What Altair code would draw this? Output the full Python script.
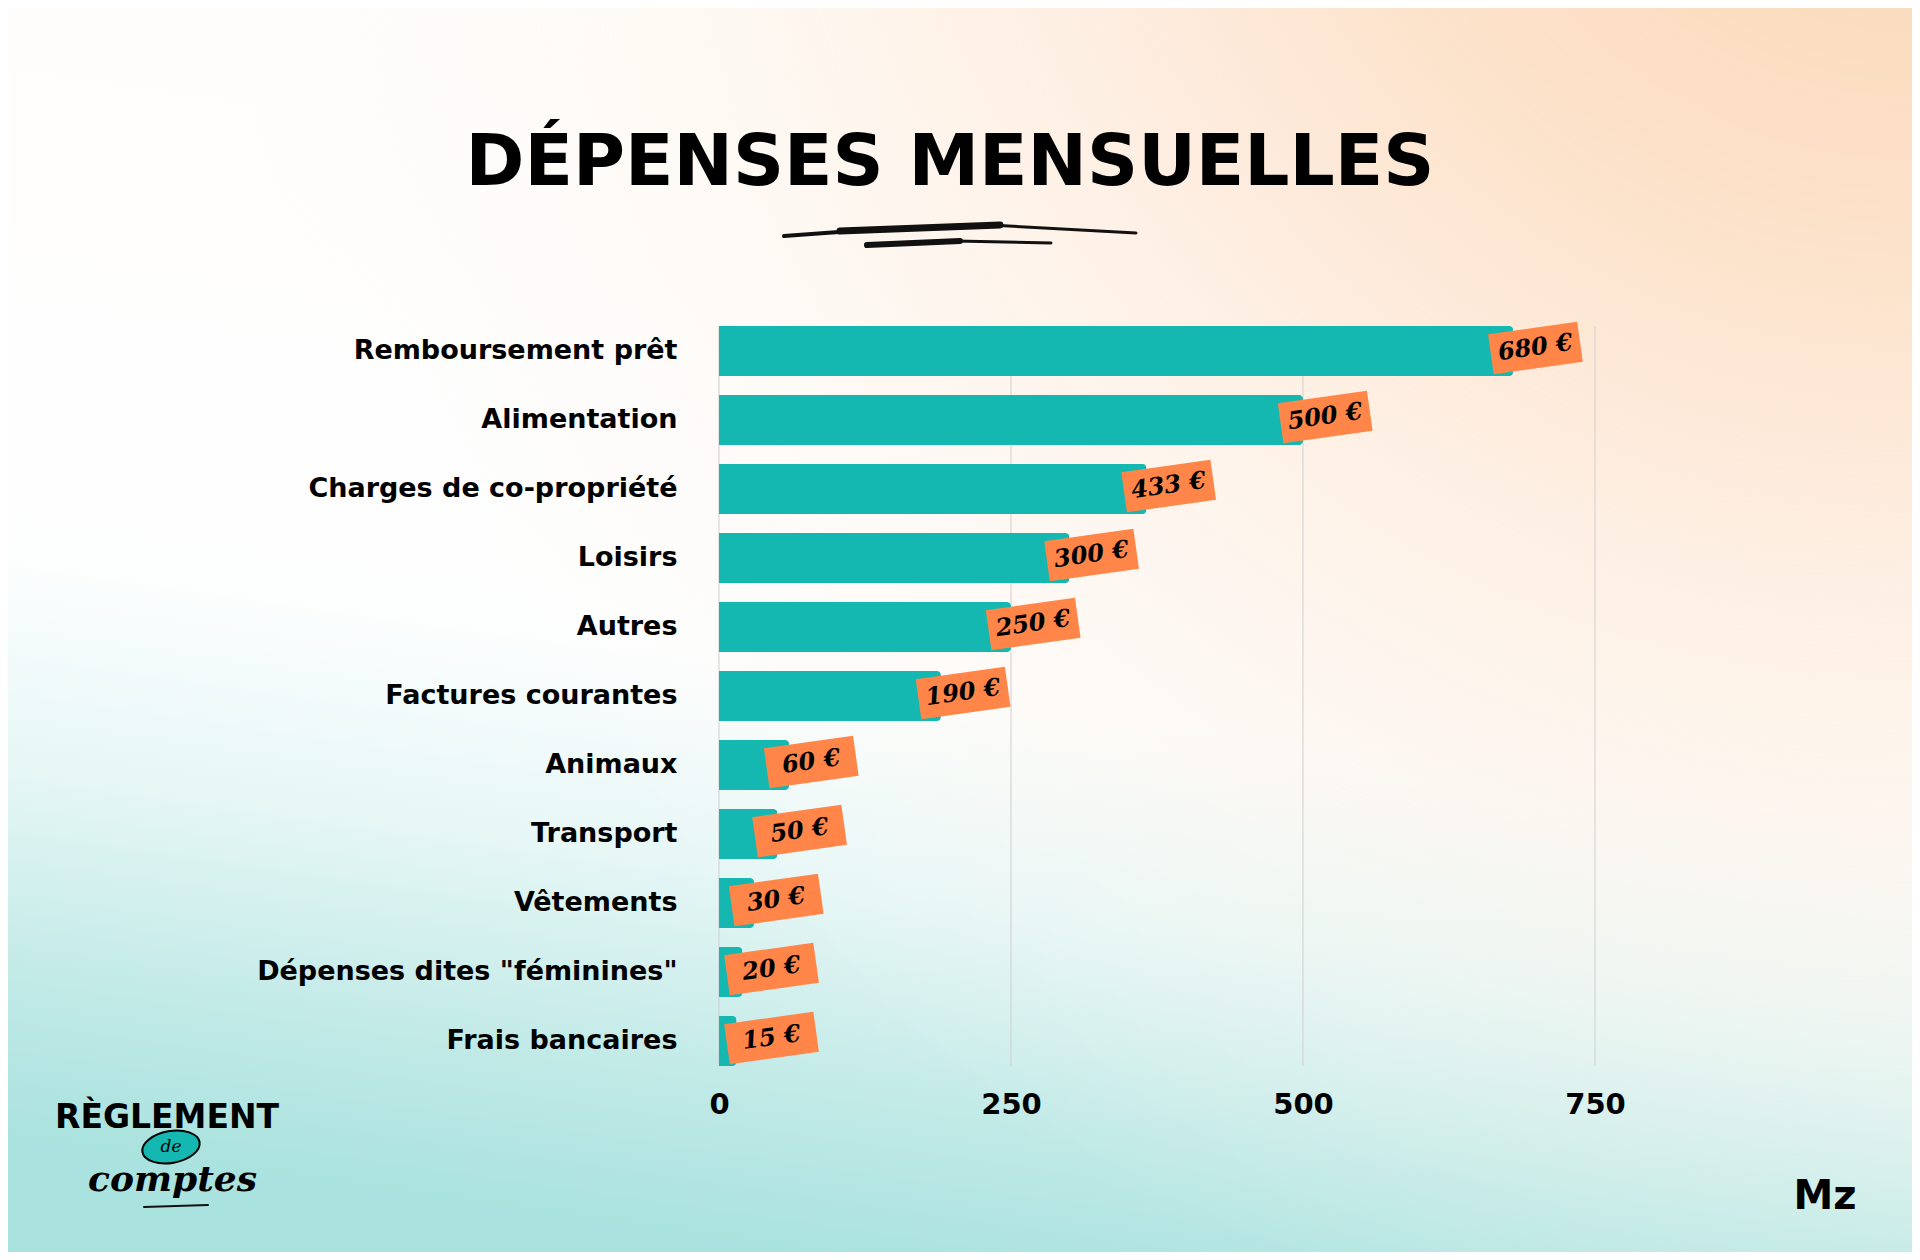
import altair as alt
import pandas as pd

# ---- data ----
categories = [
    "Remboursement prêt", "Alimentation", "Charges de co-propriété", "Loisirs",
    "Autres", "Factures courantes", "Animaux", "Transport", "Vêtements",
    "Dépenses dites \"féminines\"", "Frais bancaires",
]
# bar lengths as drawn in the picture
bar_values = [680, 500, 366, 300, 250, 190, 60, 50, 30, 20, 15]
# label texts as printed on the orange tags
label_texts = ["680 €", "500 €", "433 €", "300 €", "250 €", "190 €",
               "60 €", "50 €", "30 €", "20 €", "15 €"]
x_ticks = [0, 250, 500, 750]

df = pd.DataFrame({"cat": categories, "val": bar_values, "lab": label_texts})
grid_df = pd.DataFrame({"val": x_ticks})

W, H = 876, 740
PL, PT, PR, PB = 711, 318, 317, 186

TEAL = "#15b8b0"
ORANGE = "#ff8548"

one = pd.DataFrame({"k": [0]})

full_box = dict(x=alt.value(-PL), x2=alt.value(W + PR),
                y=alt.value(-PT), y2=alt.value(H + PB))

bg_lin = alt.Chart(one).mark_rect(
    fill=alt.Gradient(
        gradient="linear",
        stops=[
            alt.GradientStop(color="#fffdfb", offset=0),
            alt.GradientStop(color="#fdfefe", offset=0.55),
            alt.GradientStop(color="#e6f7f6", offset=0.71),
            alt.GradientStop(color="#c2eae7", offset=0.87),
            alt.GradientStop(color="#a9e2de", offset=1),
        ],
        x1=0.62, y1=0, x2=0.4, y2=1,
    )
).encode(**full_box)

bg_rad = alt.Chart(one).mark_rect(
    fill=alt.Gradient(
        gradient="radial",
        stops=[
            alt.GradientStop(color="rgba(251,210,172,1)", offset=0),
            alt.GradientStop(color="rgba(252,222,196,0.85)", offset=0.35),
            alt.GradientStop(color="rgba(254,238,224,0.45)", offset=0.68),
            alt.GradientStop(color="rgba(255,252,248,0)", offset=1),
        ],
        x1=1, y1=0, r1=0, x2=1, y2=0, r2=0.9,
    )
).encode(**full_box)

xscale = alt.Scale(domain=[0, 750], nice=False)
yscale = alt.Scale(paddingInner=0.275, paddingOuter=0)

xaxis = alt.Axis(title=None, values=x_ticks, domain=False, ticks=False,
                 grid=False, labelFlush=False,
                 labelFont="DejaVu Sans", labelFontWeight="bold",
                 labelFontSize=29, labelColor="#000000",
                 labelPadding=24, format="d", zindex=1)
yaxis = alt.Axis(title=None, domain=False, ticks=False, grid=False,
                 labelFont="DejaVu Sans", labelFontWeight="bold",
                 labelFontSize=27, labelColor="#000000",
                 labelPadding=42, labelLimit=600, zindex=1)

grid = alt.Chart(grid_df).mark_rule(color="#cfcfcf", strokeWidth=1).encode(
    x=alt.X("val:Q", scale=xscale, axis=xaxis),
    y=alt.value(0), y2=alt.value(H),
)

ysort = alt.Y("cat:N", sort=categories, scale=yscale, axis=yaxis)
xenc = alt.X("val:Q", scale=xscale, axis=xaxis)

bars = alt.Chart(df).mark_bar(color=TEAL, cornerRadiusEnd=4).encode(x=xenc, y=ysort)

base_lab = alt.Chart(df).transform_calculate(
    lx="max(datum.val + 19, 45)"
)
tags = base_lab.mark_point(
    shape="M-1,-0.45L1,-0.45L1,0.45L-1,0.45Z",
    filled=True, fill=ORANGE, strokeWidth=0, opacity=1,
    size=90 * 90, angle=352, yOffset=-3,
).encode(x=alt.X("lx:Q", axis=xaxis), y=alt.Y("cat:N", sort=categories, axis=yaxis))

tag_text = base_lab.mark_text(
    font="DejaVu Serif", fontStyle="italic", fontWeight="bold",
    fontSize=24, color="#000000", angle=352, yOffset=-3, baseline="middle",
    align="center",
).encode(x=alt.X("lx:Q", axis=xaxis), y=alt.Y("cat:N", sort=categories, axis=yaxis),
         text="lab:N")

# ---- title & decorations ----
title = alt.Chart(one).mark_text(
    text="DÉPENSES MENSUELLES", font="DejaVu Sans", fontWeight="bold",
    fontSize=71, color="#000000", align="center", baseline="alphabetic",
).encode(x=alt.value(950 - 719), y=alt.value(185 - 326))

def stroke(x1, y1, x2, y2, w):
    return alt.Chart(one).mark_rule(color="#111111", strokeWidth=w, strokeCap="round").encode(
        x=alt.value(x1 - 719), x2=alt.value(x2 - 719),
        y=alt.value(y1 - 326), y2=alt.value(y2 - 326))

strokes = [
    stroke(784, 236, 880, 229, 4),
    stroke(840, 231, 1000, 225, 7),
    stroke(990, 225, 1136, 233, 3),
    stroke(867, 245, 960, 241, 6),
    stroke(955, 241, 1051, 243, 3),
]

logo_reg = alt.Chart(one).mark_text(
    text="RÈGLEMENT", font="DejaVu Sans", fontWeight="bold", fontSize=33,
    color="#000000", align="left", baseline="alphabetic",
).encode(x=alt.value(55 - 719), y=alt.value(1128 - 326))

logo_ell = alt.Chart(one).mark_point(
    shape="M-1,0A1,0.55,0,1,0,1,0A1,0.55,0,1,0,-1,0Z",
    filled=True, fill=TEAL, stroke="#000000", strokeWidth=2, opacity=1,
    size=58 * 58, angle=350,
).encode(x=alt.value(171 - 719), y=alt.value(1147 - 326))

logo_de = alt.Chart(one).mark_text(
    text="de", font="DejaVu Serif", fontStyle="italic", fontSize=17,
    color="#000000", align="center", baseline="middle",
).encode(x=alt.value(171 - 719), y=alt.value(1147 - 326))

logo_comptes = alt.Chart(one).mark_text(
    text="comptes", font="DejaVu Serif", fontStyle="italic", fontWeight="bold",
    fontSize=36, color="#000000", align="left", baseline="alphabetic",
).encode(x=alt.value(88 - 719), y=alt.value(1191 - 326))

logo_line = stroke(144, 1207, 208, 1205, 2)

logo_mz = alt.Chart(one).mark_text(
    text="Mz", font="DejaVu Sans", fontWeight="bold", fontSize=40,
    color="#000000", align="center", baseline="alphabetic",
).encode(x=alt.value(1825 - 719), y=alt.value(1209 - 326))

chart = alt.layer(
    bg_lin, bg_rad, grid, bars, tags, tag_text, title, *strokes,
    logo_reg, logo_ell, logo_de, logo_comptes, logo_line, logo_mz,
).properties(
    width=W, height=H,
    padding={"left": PL, "top": PT, "right": PR, "bottom": PB},
    autosize=alt.AutoSizeParams(type="none"),
    background="#ffffff",
).configure_view(stroke=None)

chart.save("out.html", embed_options={"renderer": "svg", "actions": False})
